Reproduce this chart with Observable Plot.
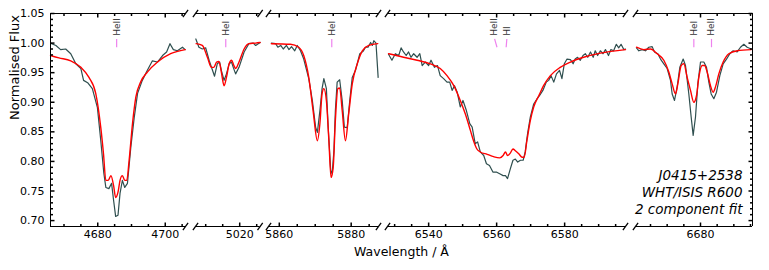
<!DOCTYPE html>
<html>
<head>
<meta charset="utf-8">
<script src="https://cdn.jsdelivr.net/npm/d3@7"></script>
<script src="https://cdn.jsdelivr.net/npm/@observablehq/plot@0.6"></script>
<style>
  body { margin: 0; background: #fff; }
  svg { overflow: visible; }
</style>
</head>
<body>
<div id="chart"></div>
<script>
// ---- panel wavelength windows (Å) ----
const panelDomains = [[4666, 4706], [5007, 5026], [5857, 5887.6], [6527.9, 6597.9], [6660.5, 6695.6]];
// ---- tick labels ----
const xMajorTicks = [4680, 4700, 5020, 5860, 5880, 6540, 6560, 6580, 6680];
const yMajorTicks = [0.70, 0.75, 0.80, 0.85, 0.90, 0.95, 1.00, 1.05];
const yDomain = [0.69, 1.05];

// ---- observed spectrum [wavelength, flux] ----
const obs1 = [[4666.0,1.000],[4667.6,0.996],[4669.0,0.989],[4670.5,0.990],[4672.0,0.982],[4673.5,0.965],[4675.0,0.957],[4675.8,0.937],[4677.0,0.933],[4678.4,0.923],[4679.9,0.891],[4680.9,0.835],[4681.8,0.780],[4682.4,0.756],[4683.3,0.754],[4684.1,0.763],[4684.7,0.734],[4685.3,0.707],[4686.0,0.709],[4686.6,0.746],[4687.3,0.768],[4688.0,0.756],[4688.8,0.763],[4689.8,0.824],[4690.8,0.874],[4691.8,0.915],[4693.2,0.937],[4694.7,0.954],[4696.2,0.970],[4697.7,0.968],[4699.2,0.979],[4700.4,0.985],[4701.4,0.999],[4702.4,0.989],[4703.6,0.987],[4705.1,0.993],[4705.9,0.989]];
const obs2 = [[5007.1,1.007],[5008.0,0.993],[5009.0,0.990],[5010.0,0.992],[5011.0,0.971],[5012.0,0.954],[5012.6,0.944],[5013.4,0.965],[5014.1,0.968],[5014.6,0.954],[5015.4,0.937],[5016.1,0.948],[5016.9,0.965],[5017.6,0.968],[5018.1,0.959],[5018.8,0.948],[5019.8,0.959],[5021.3,0.985],[5022.7,0.999],[5024.0,1.000],[5024.7,0.996],[5026.0,1.001]];
const obs3 = [[5857.8,1.000],[5859.0,0.999],[5859.6,0.993],[5860.4,0.996],[5861.1,0.990],[5862.0,0.996],[5862.7,0.989],[5863.4,0.994],[5864.3,0.987],[5865.0,0.996],[5865.9,0.987],[5866.8,0.973],[5868.2,0.940],[5869.2,0.903],[5870.1,0.858],[5870.6,0.849],[5871.3,0.886],[5871.9,0.923],[5872.4,0.940],[5873.1,0.923],[5873.6,0.858],[5874.3,0.785],[5874.7,0.779],[5875.2,0.818],[5875.6,0.886],[5876.1,0.934],[5876.8,0.938],[5877.5,0.903],[5878.1,0.858],[5878.9,0.857],[5879.6,0.903],[5880.3,0.942],[5881.2,0.954],[5882.4,0.982],[5883.3,0.986],[5884.0,0.993],[5884.7,0.993],[5885.4,1.001],[5885.9,0.996],[5886.3,1.004],[5886.9,1.000],[5887.5,0.942]];
const obs4 = [[6528.2,0.981],[6529.2,0.971],[6530.2,0.982],[6531.2,0.979],[6531.9,0.992],[6532.6,0.985],[6533.4,0.979],[6534.1,0.985],[6534.8,0.976],[6535.6,0.982],[6536.6,0.976],[6537.4,0.982],[6538.1,0.962],[6539.0,0.968],[6540.0,0.962],[6540.7,0.971],[6541.7,0.959],[6542.6,0.962],[6543.4,0.945],[6544.4,0.940],[6545.4,0.934],[6546.2,0.934],[6546.9,0.920],[6547.6,0.928],[6548.4,0.917],[6549.3,0.892],[6550.1,0.903],[6551.1,0.886],[6552.1,0.864],[6552.8,0.858],[6553.7,0.830],[6554.4,0.833],[6555.2,0.816],[6556.2,0.810],[6557.0,0.796],[6557.9,0.793],[6558.9,0.782],[6559.9,0.782],[6560.9,0.779],[6561.9,0.776],[6562.6,0.776],[6563.2,0.771],[6564.0,0.787],[6564.8,0.802],[6565.5,0.804],[6566.2,0.799],[6567.0,0.802],[6567.8,0.802],[6568.4,0.816],[6569.1,0.847],[6569.9,0.875],[6570.9,0.897],[6571.9,0.906],[6572.6,0.911],[6573.6,0.920],[6574.6,0.934],[6575.3,0.937],[6576.0,0.945],[6576.8,0.934],[6577.6,0.948],[6578.5,0.954],[6579.2,0.940],[6579.9,0.965],[6580.7,0.973],[6581.7,0.972],[6582.5,0.965],[6583.1,0.973],[6583.8,0.976],[6584.6,0.971],[6585.4,0.979],[6586.1,0.982],[6586.8,0.976],[6587.6,0.985],[6588.4,0.976],[6589.0,0.987],[6589.7,0.979],[6590.5,0.987],[6591.3,0.982],[6592.0,0.989],[6592.9,0.979],[6593.6,0.989],[6594.4,0.987],[6595.2,0.998],[6595.9,0.992],[6596.6,0.998],[6597.4,0.989],[6597.9,0.990]];
const obs5 = [[6660.8,0.992],[6661.5,0.987],[6662.5,0.989],[6663.5,0.987],[6664.5,0.993],[6665.5,0.994],[6666.2,0.985],[6667.2,0.982],[6668.0,0.973],[6669.0,0.965],[6670.0,0.957],[6671.0,0.937],[6671.5,0.914],[6672.2,0.903],[6673.0,0.926],[6673.8,0.959],[6674.8,0.973],[6675.5,0.962],[6676.5,0.914],[6677.2,0.875],[6677.8,0.844],[6678.5,0.875],[6679.2,0.931],[6680.0,0.968],[6681.0,0.968],[6681.8,0.959],[6682.5,0.934],[6683.2,0.914],[6684.0,0.906],[6684.8,0.917],[6685.8,0.945],[6686.8,0.965],[6687.8,0.973],[6688.8,0.982],[6689.8,0.987],[6691.0,0.985],[6692.0,0.993],[6693.0,0.998],[6694.0,0.993],[6695.2,0.990]];

// ---- model fit [wavelength, flux] ----
const mod1 = [[4666.0,0.979],[4668.5,0.975],[4672.0,0.970],[4675.0,0.959],[4677.4,0.942],[4679.4,0.915],[4680.9,0.857],[4681.7,0.813],[4682.4,0.768],[4683.1,0.768],[4683.9,0.776],[4684.7,0.759],[4685.3,0.739],[4686.0,0.748],[4686.6,0.768],[4687.3,0.776],[4688.0,0.768],[4688.6,0.768],[4689.3,0.802],[4690.3,0.864],[4691.3,0.909],[4692.7,0.934],[4694.7,0.951],[4697.7,0.968],[4701.6,0.982],[4705.9,0.989]];
const mod2 = [[5007.2,0.999],[5009.0,0.996],[5010.5,0.976],[5011.7,0.959],[5012.4,0.959],[5013.2,0.968],[5013.9,0.969],[5014.6,0.951],[5015.4,0.928],[5016.1,0.942],[5016.9,0.965],[5017.6,0.971],[5018.3,0.962],[5018.8,0.957],[5019.8,0.968],[5021.3,0.990],[5022.7,0.999],[5024.7,1.000],[5026.0,1.001]];
const mod3 = [[5857.8,0.999],[5863.1,0.998],[5865.4,0.993],[5866.8,0.979],[5868.2,0.942],[5869.4,0.886],[5870.6,0.835],[5871.3,0.864],[5871.9,0.914],[5872.4,0.923],[5873.1,0.903],[5873.8,0.835],[5874.4,0.773],[5875.0,0.790],[5875.6,0.869],[5876.3,0.923],[5876.8,0.924],[5877.5,0.886],[5878.4,0.835],[5879.3,0.880],[5880.3,0.931],[5881.7,0.965],[5883.1,0.987],[5884.9,0.996],[5887.4,0.999]];
const mod4 = [[6528.2,0.982],[6532.6,0.976],[6536.6,0.971],[6540.5,0.965],[6543.4,0.957],[6545.4,0.945],[6547.4,0.928],[6549.3,0.903],[6550.8,0.880],[6552.3,0.852],[6553.2,0.835],[6554.2,0.821],[6555.2,0.816],[6557.2,0.812],[6559.1,0.808],[6560.9,0.806],[6561.9,0.810],[6562.6,0.816],[6563.2,0.810],[6564.0,0.814],[6564.8,0.821],[6565.5,0.818],[6566.5,0.813],[6567.5,0.807],[6568.1,0.807],[6568.9,0.835],[6569.9,0.869],[6570.9,0.892],[6572.4,0.911],[6573.8,0.928],[6575.8,0.945],[6578.7,0.959],[6581.7,0.968],[6585.6,0.976],[6590.5,0.983],[6597.9,0.989]];
const mod5 = [[6660.8,0.993],[6663.0,0.989],[6665.0,0.990],[6667.0,0.982],[6669.0,0.971],[6670.5,0.951],[6671.5,0.931],[6672.5,0.914],[6673.2,0.931],[6674.2,0.962],[6675.0,0.965],[6676.0,0.942],[6677.0,0.920],[6678.0,0.900],[6678.8,0.911],[6679.5,0.942],[6680.5,0.962],[6681.2,0.962],[6682.0,0.951],[6683.0,0.928],[6683.8,0.917],[6684.5,0.926],[6685.5,0.948],[6686.8,0.968],[6688.5,0.982],[6691.0,0.987],[6695.2,0.989]];

// ---- line identifications ----
const lineNames = ["HeII", "HeI", "HeI", "HeII", "HI", "HeI", "HeII"];
const lineTextW = [4685.6, 5015.9, 5874.6, 6559.4, 6563.0, 6678.0, 6683.3];
const lineW     = [4685.6, 5015.9, 5874.6, 6560.1, 6562.8, 6678.0, 6683.3];

const annotation = ["J0415+2538", "WHT/ISIS R600", "2 component fit"];

// ---- layout (pixels) ----
const W = 769, H = 270;
const panelPx = [[50, 185], [195, 259.6], [268, 378], [387, 625], [635, 752]];
const margin = {top: 13, right: W - 752, bottom: H - 226, left: 50};

// ---- derived tables ----
const rows = (sets) => sets.flatMap((a, i) => a.map(([w, f]) => ({w, f, panel: i})));
const obsRows = rows([obs1, obs2, obs3, obs4, obs5]);
const modRows = rows([mod1, mod2, mod3, mod4, mod5]);
const [yMin, yMax] = yDomain;
const frameRows = panelDomains.flatMap(([a, b]) => [{x1: a, x2: b, y: yMin}, {x1: a, x2: b, y: yMax}]);
const breakXs = panelDomains.flatMap(([a, b], i) => [...(i > 0 ? [a] : []), ...(i < panelDomains.length - 1 ? [b] : [])]);
const breakRows = breakXs.flatMap(x => [{x, y: yMin}, {x, y: yMax}]);
const xMinorTicks = panelDomains.flatMap(([a, b]) => d3.range(Math.ceil(a / 5) * 5, b + 1e-9, 5)).filter(t => !xMajorTicks.includes(t));
const yMinorTicks = d3.range(70, 106).map(i => i / 100).filter(v => Math.round(v * 100) % 5 !== 0);
const ids = lineNames.map((name, i) => ({name, tw: lineTextW[i], lw: lineW[i]}));
const xLeft = panelDomains[0][0], xRight = panelDomains[panelDomains.length - 1][1];

const seg = (dx, dy) => ({draw(c) { c.moveTo(0, 0); c.lineTo(dx, dy); }});
const slash = {draw(c) { c.moveTo(-2.6, 3.6); c.lineTo(2.6, -3.6); }};
const tickRows = (xs, y) => xs.map(x => ({x, y}));
const yTickRows = (ys, x) => ys.map(y => ({x, y}));

const chart = Plot.plot({
  width: W,
  height: H,
  marginTop: margin.top,
  marginRight: margin.right,
  marginBottom: margin.bottom,
  marginLeft: margin.left,
  style: {fontFamily: "DejaVu Sans", fontSize: "11px", background: "white", color: "black"},
  x: {type: "linear", domain: panelDomains.flat(), range: panelPx.flat()},
  y: {domain: yDomain},
  marks: [
    // spectra
    Plot.line(obsRows, {x: "w", y: "f", z: "panel", stroke: "#2f4f4f", strokeWidth: 1.2}),
    Plot.line(modRows, {x: "w", y: "f", z: "panel", stroke: "#ff0000", strokeWidth: 1.4, curve: "monotone-x"}),
    // frame
    Plot.ruleY(frameRows, {y: "y", x1: "x1", x2: "x2", stroke: "black", strokeWidth: 1}),
    Plot.ruleX([xLeft], {y1: yMin, y2: yMax, stroke: "black", strokeWidth: 1}),
    Plot.ruleX([xRight], {y1: yMin, y2: yMax, stroke: "black", strokeWidth: 1}),
    Plot.dot(breakRows, {x: "x", y: "y", symbol: slash, fill: "none", stroke: "black", strokeWidth: 1.3}),
    // inward ticks
    Plot.dot(tickRows(xMajorTicks, yMin), {x: "x", y: "y", symbol: seg(0, -4), fill: "none", stroke: "black"}),
    Plot.dot(tickRows(xMinorTicks, yMin), {x: "x", y: "y", symbol: seg(0, -2.5), fill: "none", stroke: "black"}),
    Plot.dot(tickRows(xMajorTicks, yMax), {x: "x", y: "y", symbol: seg(0, 4), fill: "none", stroke: "black"}),
    Plot.dot(tickRows(xMinorTicks, yMax), {x: "x", y: "y", symbol: seg(0, 2.5), fill: "none", stroke: "black"}),
    Plot.dot(yTickRows(yMajorTicks, xLeft), {x: "x", y: "y", symbol: seg(4, 0), fill: "none", stroke: "black"}),
    Plot.dot(yTickRows(yMinorTicks, xLeft), {x: "x", y: "y", symbol: seg(2.5, 0), fill: "none", stroke: "black"}),
    Plot.dot(yTickRows(yMajorTicks, xRight), {x: "x", y: "y", symbol: seg(-4, 0), fill: "none", stroke: "black"}),
    Plot.dot(yTickRows(yMinorTicks, xRight), {x: "x", y: "y", symbol: seg(-2.5, 0), fill: "none", stroke: "black"}),
    // tick labels
    Plot.axisX({ticks: xMajorTicks, tickSize: 0, tickPadding: 4, tickFormat: d => String(d), label: null}),
    Plot.axisY({ticks: yMajorTicks, tickSize: 0, tickPadding: 6, tickFormat: d => d.toFixed(2), label: null}),
    // axis titles
    Plot.text(["Normalised Flux"], {frameAnchor: "left", text: d => d, rotate: -90, dx: -36, fontSize: 13}),
    Plot.text(["Wavelength / Å"], {frameAnchor: "bottom", text: d => d, dy: 29, fontSize: 12.5}),
    // line ids
    Plot.link(ids, {x1: "lw", y1: 0.993, x2: "tw", y2: 1.007, stroke: "violet", strokeWidth: 1.2}),
    Plot.text(ids, {x: "tw", y: 1.0125, text: "name", rotate: -90, textAnchor: "start", fontSize: 9, fill: "#333"}),
    // annotation
    Plot.text([annotation.join("\n")], {frameAnchor: "bottom-right", text: d => d, dx: -10, dy: -13, textAnchor: "end", lineAnchor: "bottom", lineHeight: 1.25, fontSize: 13.5, fontStyle: "italic"})
  ]
});
document.getElementById("chart").append(chart);
</script>
</body>
</html>
